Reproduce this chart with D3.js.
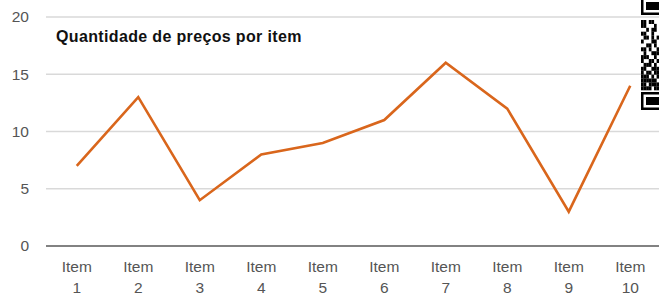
<!DOCTYPE html>
<html><head><meta charset="utf-8">
<script src="https://cdn.jsdelivr.net/npm/d3@7"></script>
<style>
html,body{margin:0;padding:0;background:#fff;}
svg{display:block;}
</style></head>
<body>
<svg id="chart" width="659" height="297"></svg>
<script>
const categories = ["Item 1","Item 2","Item 3","Item 4","Item 5","Item 6","Item 7","Item 8","Item 9","Item 10"];
const values = [7, 13, 4, 8, 9, 11, 16, 12, 3, 14];
const yTicks = [0, 5, 10, 15, 20];
const title = "Quantidade de preços por item";

const svg = d3.select("#chart");
const W = 659, H = 297;
const m = {left: 46, top: 17, bottom: 51};
const plotRight = 661;
const FONT = "Liberation Sans, Arial, sans-serif";

const x = d3.scaleBand().domain(categories).range([m.left, plotRight]);
const y = d3.scaleLinear().domain([0, 20]).range([H - m.bottom, m.top]);

// gridlines
svg.append("g").selectAll("line").data(yTicks.filter(d => d > 0)).join("line")
  .attr("x1", m.left).attr("x2", W + 10)
  .attr("y1", d => y(d)).attr("y2", d => y(d))
  .attr("stroke", "#d9d9d9").attr("stroke-width", 1.5);

// y tick labels
svg.append("g").selectAll("text").data(yTicks).join("text")
  .attr("x", 29).attr("y", d => y(d)).attr("dy", "0.35em")
  .attr("text-anchor", "end")
  .attr("font-family", FONT)
  .attr("font-size", 15.5).attr("fill", "#555")
  .text(d => d);

// baseline axis
svg.append("line").attr("x1", m.left).attr("x2", W + 10)
  .attr("y1", y(0)).attr("y2", y(0))
  .attr("stroke", "#595959").attr("stroke-width", 1.5);

// x labels
const xl = svg.append("g").selectAll("text").data(categories).join("text")
  .attr("text-anchor", "middle")
  .attr("font-family", FONT)
  .attr("font-size", 15.5).attr("fill", "#555");
xl.each(function(d){
  const parts = d.split(" ");
  const t = d3.select(this);
  parts.forEach((p, i) => {
    t.append("tspan").attr("x", x(d) + x.bandwidth()/2)
      .attr("y", 271.5 + i * 21).text(p);
  });
});

// line
const line = d3.line()
  .x((d, i) => x(categories[i]) + x.bandwidth()/2)
  .y(d => y(d));
svg.append("path").datum(values)
  .attr("d", line).attr("fill", "none")
  .attr("stroke", "#d9661c").attr("stroke-width", 2.6)
  .attr("stroke-linejoin", "miter");

// title
svg.append("text").attr("x", 56).attr("y", 42)
  .attr("font-family", FONT)
  .attr("font-size", 16).attr("font-weight", "bold").attr("fill", "#111")
  .attr("letter-spacing", 0.35)
  .text(title);

// decorative QR fragment at right edge
const qr = svg.append("g");
const qx = 641, qw = 20;
function finder(y0){
  qr.append("rect").attr("x", qx).attr("y", y0).attr("width", qw).attr("height", 18).attr("fill", "#000");
  qr.append("rect").attr("x", qx + 2.5).attr("y", y0 + 2.5).attr("width", qw).attr("height", 13).attr("fill", "#fff");
  qr.append("rect").attr("x", qx + 5).attr("y", y0 + 5).attr("width", qw).attr("height", 8).attr("fill", "#000");
}
finder(-3);
finder(92);
const pattern = [
  "1101100",
  "1100010",
  "0010110",
  "1100100",
  "0110101",
  "1000110",
  "0011010",
  "1101001",
  "0100111",
  "1110010",
  "1001101",
  "0111010",
  "1100111",
  "1011011",
  "1110101",
  "1111110",
  "1101111",
  "1111011"
];
const ms = 2.6;
pattern.forEach((row, r) => {
  row.split("").forEach((c, k) => {
    if (c === "1") qr.append("rect").attr("x", qx + k * ms).attr("y", 20 + r * 3.9)
      .attr("width", ms + 0.1).attr("height", 4).attr("fill", "#000");
  });
});
</script>
</body></html>
